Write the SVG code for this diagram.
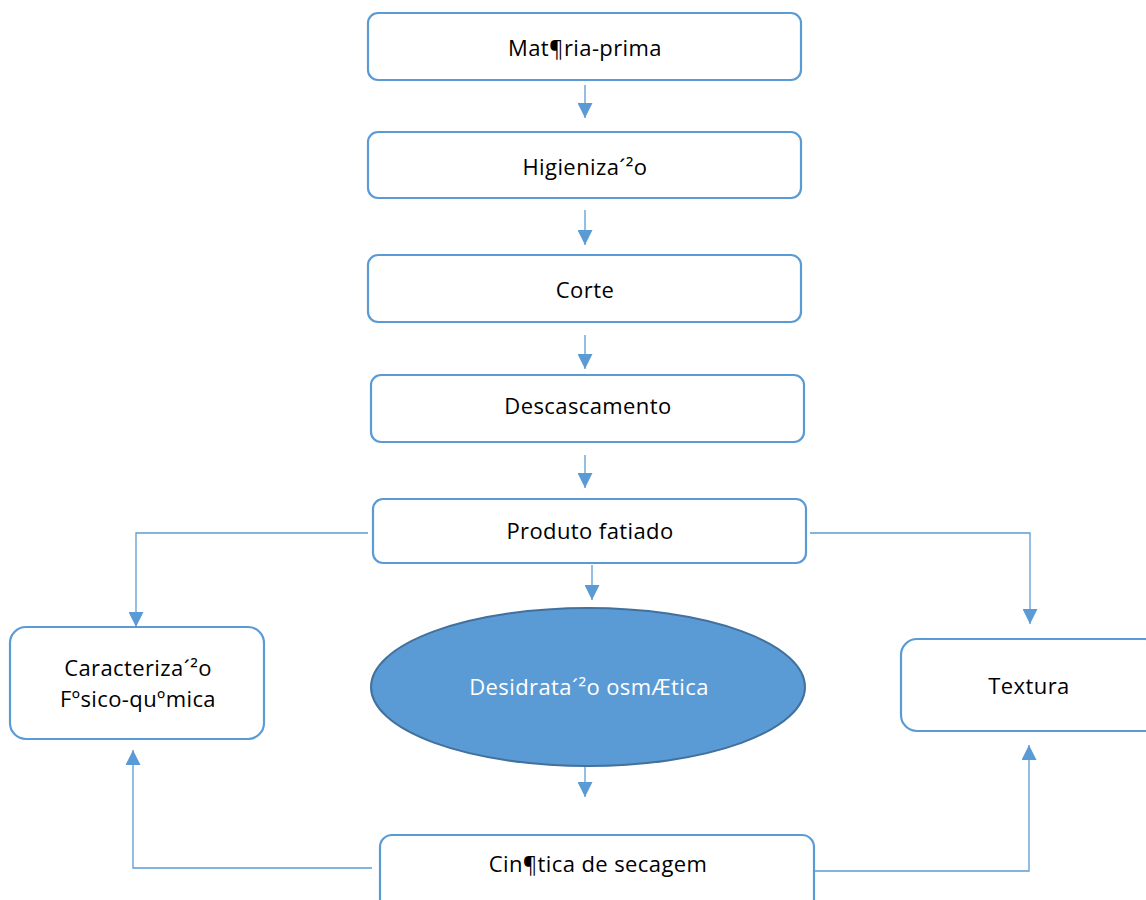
<svg xmlns="http://www.w3.org/2000/svg" width="1146" height="900" viewBox="0 0 1146 900">
<defs>
<marker id="ah" viewBox="0 0 10 10" refX="10" refY="5" markerWidth="15" markerHeight="15" markerUnits="userSpaceOnUse" orient="auto">
<path d="M0,0 L10,5 L0,10 z" fill="#5B9BD5"/>
</marker>
<style>
.box{fill:#fff;stroke:#5B9BD5;stroke-width:2.2}
.t{font-family:"Open Sans","Noto Sans","Liberation Sans",sans-serif;font-size:22px;letter-spacing:0.4px;fill:#000;text-anchor:middle;dominant-baseline:central}
.w{fill:#fff}
.c{fill:none;stroke:#5B9BD5;stroke-width:1.3;marker-end:url(#ah)}
</style>
</defs>
<rect width="1146" height="900" fill="#fff"/>
<g id="connectors">
<line class="c" x1="585" y1="85" x2="585" y2="118"/>
<line class="c" x1="585" y1="210" x2="585" y2="245"/>
<line class="c" x1="585" y1="335" x2="585" y2="369"/>
<line class="c" x1="585" y1="455" x2="585" y2="488"/>
<line class="c" x1="592" y1="565" x2="592" y2="600"/>
<line class="c" x1="585" y1="766" x2="585" y2="797"/>
<polyline class="c" points="368,533 136,533 136,627"/>
<polyline class="c" points="810,533 1030,533 1030,624"/>
<polyline class="c" points="372,868 133,868 133,750"/>
<polyline class="c" points="810,871 1029,871 1029,745"/>
</g>
<g id="n1"><rect class="box" x="368" y="13" width="433" height="67" rx="10"/><text class="t" x="585" y="47">Mat¶ria-prima</text></g>
<g id="n2"><rect class="box" x="368" y="132" width="433" height="66" rx="10"/><text class="t" x="585" y="166">Higieniza´²o</text></g>
<g id="n3"><rect class="box" x="368" y="255" width="433" height="67" rx="10"/><text class="t" x="585" y="289">Corte</text></g>
<g id="n4"><rect class="box" x="371" y="375" width="433" height="67" rx="10"/><text class="t" x="588" y="405">Descascamento</text></g>
<g id="n5"><rect class="box" x="373" y="499" width="433" height="64" rx="10"/><text class="t" x="590" y="530">Produto fatiado</text></g>
<g id="n6"><rect class="box" x="10" y="627" width="254" height="112" rx="16"/><text class="t" x="138" y="667">Caracteriza´²o</text><text class="t" x="138" y="698">Fºsico-quºmica</text></g>
<g id="n7"><ellipse cx="588" cy="687" rx="217" ry="79" fill="#5B9BD5" stroke="#41719C" stroke-width="2"/><text class="t w" x="589" y="686">Desidrata´²o osmÆtica</text></g>
<g id="n8"><rect class="box" x="901" y="639" width="260" height="92" rx="16"/><text class="t" x="1029" y="685">Textura</text></g>
<g id="n9"><rect class="box" x="380" y="835" width="434" height="80" rx="12"/><text class="t" x="598" y="863">Cin¶tica de secagem</text></g>
</svg>
